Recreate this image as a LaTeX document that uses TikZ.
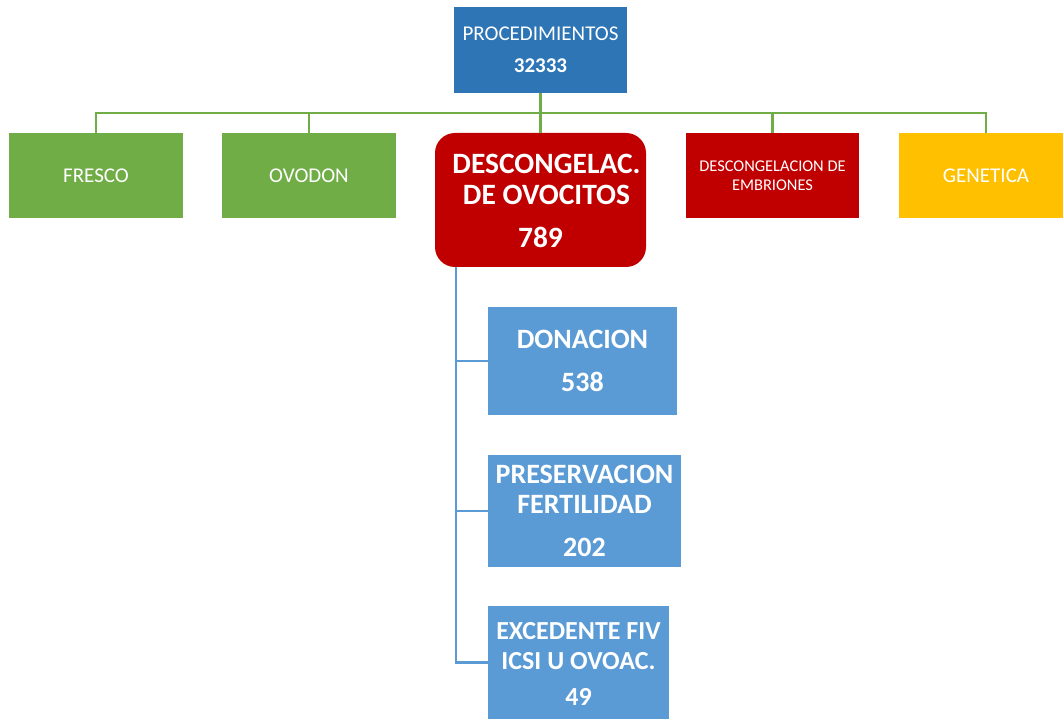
\documentclass[tikz,border=0pt]{standalone}
\usepackage{fontspec}
\setmainfont{Carlito}
\definecolor{topblue}{HTML}{2E75B6}
\definecolor{lblue}{HTML}{5B9BD5}
\definecolor{gr}{HTML}{70AD47}
\definecolor{rd}{HTML}{C00000}
\definecolor{yl}{HTML}{FFC000}
\begin{document}
\begin{tikzpicture}[x=1pt,y=-1pt,
  box/.style={draw=none,minimum width=#1,inner sep=0pt,text=white,align=center},
  gline/.style={draw=gr,line width=2.4pt},
  bline/.style={draw=lblue,line width=2.4pt}]
\useasboundingbox (0,0) rectangle (1063,719);
% top
\node[box=173pt,minimum height=86pt,fill=topblue] (top) at (540.5,50) {};
\node[text=white,font=\fontsize{21}{24}\selectfont] at (540.5,34) {PROCEDIMIENTOS};
\node[text=white,font=\fontsize{21}{24}\selectfont\bfseries] at (540.5,66) {32333};
% level 1
\node[box=174pt,minimum height=85pt,fill=gr,font=\fontsize{21}{24}\selectfont] (fre) at (96,175.5) {FRESCO};
\node[box=174pt,minimum height=85pt,fill=gr,font=\fontsize{21}{24}\selectfont] (ovo) at (309,175.5) {OVODON};
\node[box=211pt,minimum height=134pt,fill=rd,rounded corners=20pt] (des) at (540.5,200) {};
\node[text=white,font=\fontsize{29.5}{31}\selectfont\bfseries,align=center] at (546.5,179) {DESCONGELAC.\\DE OVOCITOS};
\node[text=white,font=\fontsize{29.5}{31}\selectfont\bfseries] at (540.5,237) {789};
\node[box=173pt,minimum height=85pt,fill=rd,font=\fontsize{16.4}{19}\selectfont] (emb) at (772.5,175.5) {DESCONGELACION DE\\EMBRIONES};
\node[box=164pt,minimum height=85pt,fill=yl] (gen) at (981,175.5) {};
\node[text=white,font=\fontsize{21}{24}\selectfont] at (986,175.5) {GENETICA};
% connectors level 1
\coordinate (bus) at (540.5,113);
\coordinate (genc) at (986,133);
\draw[gline] (top.south) -- (bus);
\draw[gline] (fre.north) -- ++(0,-20) -| (genc);
\draw[gline] (ovo.north) -- ++(0,-20);
\draw[gline] (des.north) -- ++(0,-20);
\draw[gline] (emb.north) -- ++(0,-20);
% level 2
\node[box=189pt,minimum height=108pt,fill=lblue] (don) at (582.5,361) {};
\node[text=white,font=\fontsize{28}{30}\selectfont\bfseries] at (582.5,339) {DONACION};
\node[text=white,font=\fontsize{28}{30}\selectfont\bfseries] at (582.5,382) {538};
\node[box=193pt,minimum height=112pt,fill=lblue] (pre) at (584.5,511) {};
\node[text=white,font=\fontsize{28}{30}\selectfont\bfseries,align=center] at (584.5,489) {PRESERVACION\\FERTILIDAD};
\node[text=white,font=\fontsize{28}{30}\selectfont\bfseries] at (584.5,547) {202};
\node[box=181pt,minimum height=113pt,fill=lblue] (exc) at (578.5,662.5) {};
\node[text=white,font=\fontsize{26}{30}\selectfont\bfseries,align=center] at (578.5,646) {EXCEDENTE FIV\\ICSI U OVOAC.};
\node[text=white,font=\fontsize{26}{30}\selectfont\bfseries] at (578.5,697) {49};
% connectors level 2
\coordinate (trunk) at (456,267);
\draw[bline] (trunk) |- (exc.west);
\draw[bline] (trunk |- don.west) -- (don.west);
\draw[bline] (trunk |- pre.west) -- (pre.west);
\end{tikzpicture}
\end{document}
